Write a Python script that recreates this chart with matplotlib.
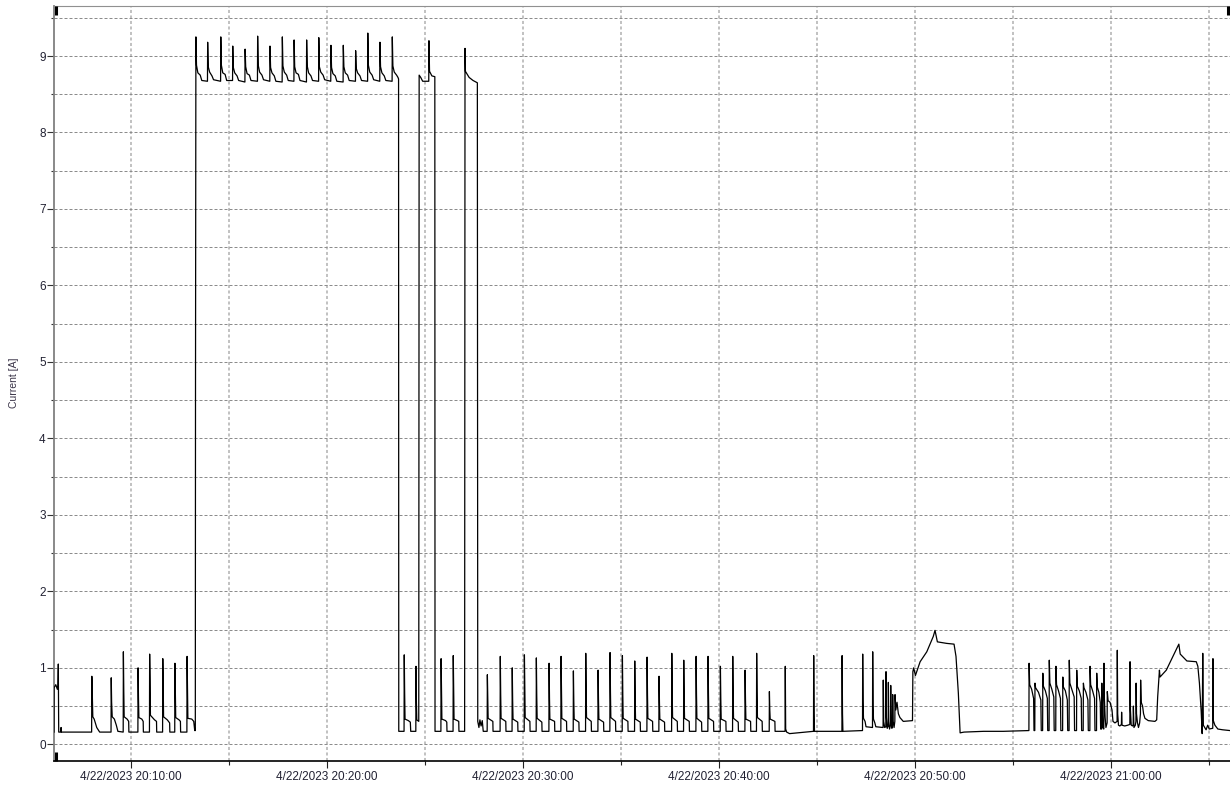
import numpy as np
import pandas as pd
import matplotlib
matplotlib.use("Agg")
import matplotlib.pyplot as plt
import matplotlib.dates as mdates
from matplotlib.ticker import MultipleLocator, FuncFormatter
from datetime import timedelta

plt.rcParams['font.family'] = ['Liberation Sans', 'DejaVu Sans']

# Logged current, (minutes after 20:00, amps), split by operating phase
idle_start = [(6.07, 0.16), (6.075, 0.74), (6.16, 0.78), (6.24, 0.72), (6.27, 0.76), (6.29, 1.05),
              (6.31, 0.16), (6.42, 0.16), (6.43, 0.22), (6.45, 0.16), (7.98, 0.16)]

idle_cycles = [
    (7.99, 0.16), (8.00, 0.89), (8.02, 0.70), (8.05, 0.36), (8.12, 0.33), (8.25, 0.22), (8.40, 0.16), (8.98, 0.16),
    (8.99, 0.87), (9.01, 0.55), (9.04, 0.36), (9.15, 0.33), (9.25, 0.25), (9.33, 0.17), (9.60, 0.16),
    (9.61, 1.21), (9.63, 0.70), (9.65, 0.36), (9.80, 0.33), (9.88, 0.30), (9.89, 0.16), (10.35, 0.16),
    (10.36, 1.00), (10.38, 0.60), (10.40, 0.35), (10.55, 0.33), (10.62, 0.30), (10.63, 0.16), (10.94, 0.16),
    (10.95, 1.18), (10.97, 0.85), (10.99, 0.38), (11.20, 0.32), (11.30, 0.30), (11.31, 0.16), (11.61, 0.16),
    (11.62, 1.12), (11.64, 0.80), (11.66, 0.36), (11.85, 0.32), (11.97, 0.28), (11.98, 0.16), (12.23, 0.16),
    (12.24, 1.06), (12.26, 0.70), (12.28, 0.35), (12.45, 0.32), (12.52, 0.30), (12.53, 0.16), (12.85, 0.16),
    (12.86, 1.15), (12.88, 0.75), (12.90, 0.34), (13.10, 0.33), (13.20, 0.30), (13.25, 0.18), (13.28, 0.18),
]

run1 = [
    (13.29, 4.75),
    (13.31, 9.25), (13.34, 8.88), (13.41, 8.78), (13.53, 8.75), (13.61, 8.68), (13.90, 8.67),
    (13.91, 9.18), (13.94, 8.86), (14.01, 8.79), (14.13, 8.74), (14.21, 8.69), (14.57, 8.67),
    (14.58, 9.25), (14.61, 8.88), (14.68, 8.78), (14.80, 8.76), (14.88, 8.68), (15.18, 8.68),
    (15.19, 9.13), (15.22, 8.85), (15.29, 8.78), (15.41, 8.74), (15.49, 8.68), (15.81, 8.66),
    (15.82, 9.09), (15.85, 8.86), (15.92, 8.77), (16.04, 8.75), (16.12, 8.68), (16.45, 8.67),
    (16.46, 9.26), (16.49, 8.88), (16.56, 8.79), (16.68, 8.75), (16.76, 8.69), (17.08, 8.67),
    (17.09, 9.13), (17.12, 8.85), (17.19, 8.78), (17.31, 8.74), (17.39, 8.67), (17.71, 8.66),
    (17.72, 9.25), (17.75, 8.87), (17.82, 8.79), (17.94, 8.75), (18.02, 8.68), (18.31, 8.67),
    (18.32, 9.21), (18.35, 8.86), (18.42, 8.78), (18.54, 8.76), (18.62, 8.68), (18.95, 8.66),
    (18.96, 9.21), (18.99, 8.87), (19.06, 8.78), (19.18, 8.74), (19.26, 8.68), (19.57, 8.67),
    (19.58, 9.24), (19.61, 8.86), (19.68, 8.79), (19.80, 8.75), (19.88, 8.69), (20.19, 8.67),
    (20.20, 9.14), (20.23, 8.85), (20.30, 8.77), (20.42, 8.74), (20.50, 8.67), (20.82, 8.66),
    (20.83, 9.14), (20.86, 8.86), (20.93, 8.78), (21.05, 8.75), (21.13, 8.68), (21.45, 8.67),
    (21.46, 9.07), (21.49, 8.84), (21.56, 8.78), (21.68, 8.74), (21.76, 8.68), (22.07, 8.67),
    (22.08, 9.30), (22.11, 8.88), (22.18, 8.79), (22.30, 8.75), (22.38, 8.69), (22.69, 8.67),
    (22.70, 9.18), (22.73, 8.86), (22.80, 8.78), (22.92, 8.74), (23.00, 8.68), (23.32, 8.67),
    (23.33, 9.25), (23.36, 8.87), (23.43, 8.79), (23.55, 8.75), (23.62, 8.72), (23.65, 8.70),
    (23.66, 0.17),
]

gap1 = [(23.67, 0.17), (23.93, 0.17), (23.94, 1.17), (23.96, 0.68), (23.98, 0.33), (24.15, 0.31),
        (24.25, 0.29), (24.27, 0.17), (24.53, 0.17), (24.54, 1.02), (24.56, 0.55), (24.58, 0.32),
        (24.68, 0.30)]

run2 = [(24.70, 8.75), (24.78, 8.72), (24.88, 8.67), (25.19, 8.67), (25.20, 9.20), (25.23, 8.80),
        (25.35, 8.74), (25.50, 8.73), (25.51, 0.17)]

gap2 = [(25.81, 0.17), (25.82, 1.12), (25.84, 0.70), (25.86, 0.33), (26.05, 0.31), (26.11, 0.29),
        (26.12, 0.17), (26.43, 0.17), (26.44, 1.16), (26.46, 0.70), (26.48, 0.33), (26.65, 0.31),
        (26.72, 0.30), (26.73, 0.17), (27.02, 0.17)]

run3 = [(27.04, 9.10), (27.06, 8.80), (27.25, 8.72), (27.45, 8.68), (27.67, 8.65), (27.69, 0.30)]

idle_cycles2 = [
    (27.75, 0.22), (27.80, 0.32), (27.86, 0.24), (27.92, 0.31), (27.97, 0.17),
    (28.17, 0.17), (28.18, 0.91), (28.20, 0.62), (28.22, 0.34), (28.46, 0.30), (28.47, 0.17),
    (28.83, 0.17), (28.84, 1.15), (28.86, 0.66), (28.88, 0.34), (29.12, 0.30), (29.13, 0.17),
    (29.44, 0.17), (29.45, 1.00), (29.47, 0.58), (29.49, 0.33), (29.73, 0.29), (29.74, 0.17),
    (30.06, 0.17), (30.07, 1.17), (30.09, 0.70), (30.11, 0.35), (30.35, 0.30), (30.36, 0.17),
    (30.67, 0.17), (30.68, 1.13), (30.70, 0.64), (30.72, 0.34), (30.96, 0.29), (30.97, 0.17),
    (31.32, 0.17), (31.33, 1.06), (31.35, 0.60), (31.37, 0.33), (31.61, 0.30), (31.62, 0.17),
    (31.93, 0.17), (31.94, 1.15), (31.96, 0.68), (31.98, 0.34), (32.22, 0.30), (32.23, 0.17),
    (32.56, 0.17), (32.57, 0.96), (32.59, 0.57), (32.61, 0.33), (32.85, 0.29), (32.86, 0.17),
    (33.19, 0.17), (33.20, 1.19), (33.22, 0.70), (33.24, 0.35), (33.48, 0.30), (33.49, 0.17),
    (33.82, 0.17), (33.83, 0.97), (33.85, 0.58), (33.87, 0.33), (34.11, 0.29), (34.12, 0.17),
    (34.43, 0.17), (34.44, 1.20), (34.46, 0.69), (34.48, 0.35), (34.72, 0.30), (34.73, 0.17),
    (35.06, 0.17), (35.07, 1.16), (35.09, 0.66), (35.11, 0.34), (35.35, 0.30), (35.36, 0.17),
    (35.69, 0.17), (35.70, 1.09), (35.72, 0.62), (35.74, 0.33), (35.98, 0.29), (35.99, 0.17),
    (36.32, 0.17), (36.33, 1.14), (36.35, 0.65), (36.37, 0.34), (36.61, 0.30), (36.62, 0.17),
    (36.93, 0.17), (36.94, 0.89), (36.96, 0.55), (36.98, 0.33), (37.22, 0.29), (37.23, 0.17),
    (37.58, 0.17), (37.59, 1.19), (37.61, 0.70), (37.63, 0.35), (37.87, 0.30), (37.88, 0.17),
    (38.19, 0.17), (38.20, 1.10), (38.22, 0.63), (38.24, 0.34), (38.48, 0.30), (38.49, 0.17),
    (38.82, 0.17), (38.83, 1.15), (38.85, 0.66), (38.87, 0.34), (39.11, 0.29), (39.12, 0.17),
    (39.43, 0.17), (39.44, 1.15), (39.46, 0.67), (39.48, 0.34), (39.72, 0.30), (39.73, 0.17),
    (40.06, 0.17), (40.07, 1.02), (40.09, 0.60), (40.11, 0.33), (40.35, 0.30), (40.36, 0.17),
    (40.69, 0.17), (40.70, 1.15), (40.72, 0.66), (40.74, 0.34), (40.98, 0.29), (40.99, 0.17),
    (41.32, 0.17), (41.33, 0.97), (41.35, 0.58), (41.37, 0.33), (41.61, 0.30), (41.62, 0.17),
    (41.91, 0.17), (41.92, 1.19), (41.94, 0.70), (41.96, 0.35), (42.20, 0.30), (42.21, 0.17),
    (42.56, 0.17), (42.57, 0.69), (42.59, 0.45), (42.61, 0.33), (42.85, 0.30), (42.86, 0.17),
    (43.37, 0.17), (43.38, 1.02), (43.40, 0.20), (43.45, 0.16), (43.60, 0.14), (44.00, 0.15), (44.40, 0.16),
    (44.82, 0.17), (44.83, 1.16), (44.85, 0.40), (44.87, 0.17),
    (46.27, 0.17), (46.28, 1.16), (46.30, 0.40), (46.32, 0.17),
    (47.32, 0.18),
]

burst = [
    (47.33, 1.18), (47.35, 0.55), (47.37, 0.34), (47.45, 0.30), (47.50, 0.23), (47.83, 0.22),
    (47.84, 1.21), (47.86, 0.50), (47.88, 0.33), (47.95, 0.28), (48.00, 0.23), (48.37, 0.22),
    (48.38, 0.84), (48.40, 0.30), (48.45, 0.22), (48.51, 0.23),
    (48.52, 0.95), (48.54, 0.35), (48.58, 0.21), (48.63, 0.24),
    (48.64, 0.81), (48.66, 0.30), (48.70, 0.20), (48.75, 0.25),
    (48.76, 0.77), (48.78, 0.32), (48.82, 0.21), (48.85, 0.26),
    (48.86, 0.65), (48.88, 0.30), (48.93, 0.22), (48.97, 0.30),
    (48.98, 0.65), (49.02, 0.45), (49.08, 0.55), (49.15, 0.40), (49.23, 0.35), (49.40, 0.30), (49.87, 0.31),
]

ramp1 = [(49.89, 0.95), (49.93, 1.00), (50.02, 0.90), (50.26, 1.08), (50.60, 1.21), (50.93, 1.41),
         (51.02, 1.49), (51.14, 1.34), (51.61, 1.32), (51.99, 1.31), (52.09, 1.15), (52.21, 0.67),
         (52.30, 0.15), (52.50, 0.16), (53.50, 0.17), (54.50, 0.17), (55.81, 0.18)]

dense = [
    (55.82, 1.06), (55.85, 0.78), (55.95, 0.72), (56.05, 0.60), (56.07, 0.18),
    (56.11, 0.18), (56.12, 0.80), (56.15, 0.74), (56.30, 0.68), (56.42, 0.58), (56.44, 0.18),
    (56.51, 0.18), (56.52, 0.93), (56.55, 0.76), (56.65, 0.70), (56.75, 0.60), (56.77, 0.18),
    (56.84, 0.18), (56.85, 1.10), (56.88, 0.80), (56.98, 0.72), (57.08, 0.62), (57.10, 0.18),
    (57.18, 0.18), (57.19, 1.02), (57.22, 0.78), (57.32, 0.70), (57.42, 0.60), (57.44, 0.18),
    (57.53, 0.18), (57.54, 0.88), (57.57, 0.75), (57.67, 0.70), (57.77, 0.58), (57.79, 0.18),
    (57.86, 0.18), (57.87, 1.10), (57.90, 0.80), (58.00, 0.72), (58.12, 0.62), (58.14, 0.18),
    (58.24, 0.18), (58.25, 0.97), (58.28, 0.76), (58.38, 0.70), (58.48, 0.60), (58.50, 0.18),
    (58.58, 0.18), (58.59, 0.80), (58.62, 0.74), (58.72, 0.68), (58.82, 0.58), (58.84, 0.18),
    (58.92, 0.18), (58.93, 1.02), (58.96, 0.78), (59.06, 0.70), (59.16, 0.60), (59.18, 0.18),
    (59.26, 0.18), (59.27, 0.93), (59.30, 0.75), (59.38, 0.68), (59.45, 0.55), (59.47, 0.20),
    (59.52, 0.20), (59.53, 0.80), (59.55, 0.45), (59.58, 0.22), (59.63, 0.20),
    (59.64, 1.06), (59.66, 0.60), (59.70, 0.35), (59.74, 0.22), (59.80, 0.28),
    (59.81, 0.69), (59.85, 0.57), (59.95, 0.55), (60.05, 0.45), (60.10, 0.30), (60.20, 0.28), (60.31, 0.30),
    (60.32, 1.23), (60.34, 0.40), (60.38, 0.25), (60.45, 0.24), (60.53, 0.26),
    (60.54, 0.42), (60.56, 0.25), (60.70, 0.24), (60.85, 0.25), (60.96, 0.26),
    (60.97, 1.08), (60.99, 0.45), (61.03, 0.25), (61.10, 0.24), (61.13, 0.26),
    (61.14, 0.50), (61.17, 0.22), (61.24, 0.25), (61.27, 0.30),
    (61.28, 0.80), (61.30, 0.40), (61.35, 0.28), (61.40, 0.22), (61.46, 0.28), (61.50, 0.40),
    (61.51, 0.84), (61.54, 0.55), (61.61, 0.50), (61.66, 0.40), (61.73, 0.34), (61.90, 0.31),
    (62.24, 0.30), (62.33, 0.32),
]

ramp2 = [(62.38, 0.62), (62.47, 0.97), (62.50, 0.88), (62.82, 0.97), (63.16, 1.15), (63.46, 1.31),
         (63.53, 1.18), (63.87, 1.09), (64.35, 1.08), (64.43, 1.02), (64.51, 0.80), (64.60, 0.43),
         (64.65, 0.14), (64.68, 1.19), (64.71, 0.25), (64.78, 0.22), (64.85, 0.19), (64.93, 0.25),
         (65.01, 0.20), (65.19, 0.21), (65.20, 1.12), (65.22, 0.31), (65.30, 0.25), (65.45, 0.20),
         (65.70, 0.19), (66.07, 0.18)]

segments = [idle_start, idle_cycles, run1, gap1, run2, gap2, run3,
            idle_cycles2, burst, ramp1, dense, ramp2]
log = np.array([p for seg in segments for p in seg])

t0 = pd.Timestamp("2023-04-22 20:00:00")
times = t0 + pd.to_timedelta(log[:, 0], unit="min")
amps = log[:, 1]

fig = plt.figure(figsize=(12.3, 7.9), dpi=100)
ax = fig.add_axes([54 / 1230, 1 - 761 / 790, 1 - 54 / 1230, 755 / 790])

ax.plot(times, amps, color="black", lw=0.9, zorder=3)

ax.set_xlim(t0 + pd.Timedelta(minutes=6.07), t0 + pd.Timedelta(minutes=66.07))
ax.set_ylim(-0.218, 9.654)

# time axis: labels every 10 min, grid every 5 min
ax.xaxis.set_major_locator(mdates.MinuteLocator(byminute=[0, 10, 20, 30, 40, 50]))
ax.xaxis.set_minor_locator(mdates.MinuteLocator(byminute=range(0, 60, 5)))


def fmt_time(v, pos):
    d = mdates.num2date(v) + timedelta(microseconds=500000)
    d = d.replace(microsecond=0)
    return f"{d.month}/{d.day}/{d.year} {d:%H:%M:%S}"


ax.xaxis.set_major_formatter(FuncFormatter(fmt_time))

ax.yaxis.set_major_locator(MultipleLocator(1))
ax.yaxis.set_minor_locator(MultipleLocator(0.5))

ax.tick_params(axis="x", which="major", length=5, width=0.8, pad=2, labelsize=8.5,
               color="#222222", labelcolor="#222233")
ax.tick_params(axis="x", which="minor", length=3, width=0.8, color="#222222")
ax.tick_params(axis="y", which="major", length=5, width=0.8, pad=1, labelsize=8.5,
               color="#333333", labelcolor="#222233")
ax.tick_params(axis="y", which="minor", length=2.5, width=0.8, color="#333333")

ax.grid(axis="y", which="both", color="#8c8c8c", lw=0.72, linestyle=(0, (3, 2)), zorder=1)
ax.grid(axis="x", which="both", color="#b0b0b0", lw=1.1, linestyle=(0, (2, 1.6)), zorder=1)

ax.spines["left"].set_color("#808080")
ax.spines["left"].set_linewidth(1.3)
ax.spines["top"].set_color("#909090")
ax.spines["top"].set_linewidth(0.8)
ax.spines["bottom"].set_color("black")
ax.spines["bottom"].set_linewidth(1.2)
ax.spines["right"].set_visible(False)

# cursor marks at the plot corners
for xm, y0, y1 in [(0.002, 0.988, 1.0), (0.002, 0.0, 0.012), (0.9985, 0.988, 1.0)]:
    ax.plot([xm, xm], [y0, y1], transform=ax.transAxes, color="black", lw=2.2,
            clip_on=False, zorder=5, solid_capstyle="butt")

fig.text(14 / 1230, 1 - 383 / 790, "Current [A]", rotation=90, ha="center", va="center",
         fontsize=7.5, color="#3a3448")

fig.savefig("out.png", dpi=100)
